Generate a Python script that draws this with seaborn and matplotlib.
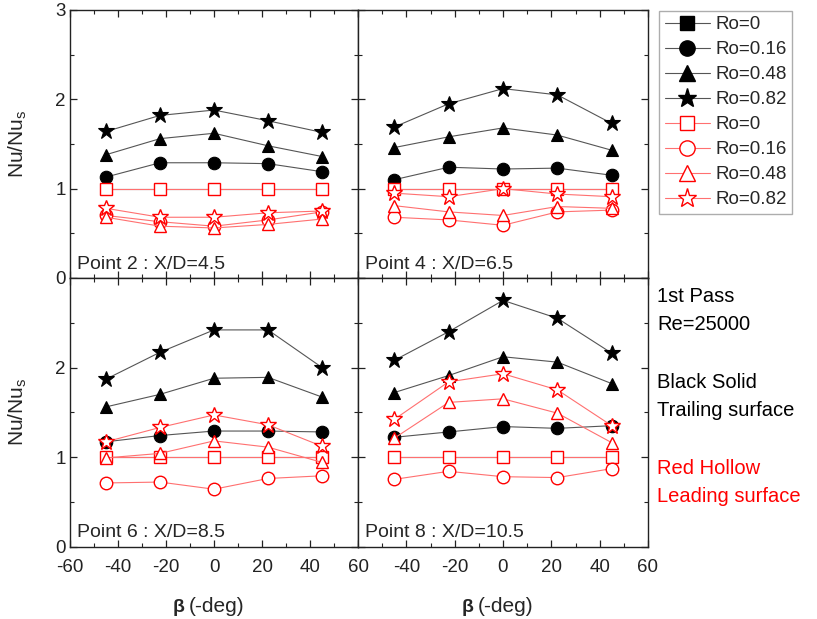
import matplotlib
matplotlib.use("Agg")
import matplotlib.pyplot as plt
from matplotlib.lines import Line2D
from matplotlib.ticker import MultipleLocator, FixedLocator
import seaborn as sns
import pandas as pd

sns.set_style("white")
plt.rcParams['font.family'] = ['Liberation Sans', 'DejaVu Sans']
plt.rcParams['axes.unicode_minus'] = False

beta = [-45, -22.5, 0, 22.5, 45]
ro_labels = ["Ro=0", "Ro=0.16", "Ro=0.48", "Ro=0.82"]

# Trailing surface (black, solid) per Ro: 0, 0.16, 0.48, 0.82
p2_trail = [[1.0, 1.0, 1.0, 1.0, 1.0],
            [1.13, 1.29, 1.29, 1.28, 1.19],
            [1.38, 1.56, 1.62, 1.48, 1.36],
            [1.64, 1.82, 1.88, 1.76, 1.63]]
p2_lead = [[1.0, 1.0, 1.0, 1.0, 1.0],
           [0.70, 0.63, 0.58, 0.65, 0.74],
           [0.68, 0.58, 0.56, 0.60, 0.66],
           [0.78, 0.68, 0.68, 0.73, 0.75]]

p4_trail = [[1.0, 1.0, 1.0, 1.0, 1.0],
            [1.10, 1.24, 1.22, 1.23, 1.15],
            [1.46, 1.58, 1.68, 1.60, 1.43],
            [1.69, 1.95, 2.12, 2.05, 1.73]]
p4_lead = [[1.0, 1.0, 1.0, 1.0, 1.0],
           [0.68, 0.65, 0.59, 0.74, 0.76],
           [0.81, 0.74, 0.70, 0.80, 0.78],
           [0.95, 0.91, 1.00, 0.94, 0.91]]

p6_trail = [[1.0, 1.0, 1.0, 1.0, 1.0],
            [1.17, 1.24, 1.29, 1.29, 1.28],
            [1.56, 1.70, 1.88, 1.89, 1.67],
            [1.87, 2.17, 2.42, 2.42, 2.00]]
p6_lead = [[1.0, 1.0, 1.0, 1.0, 1.0],
           [0.71, 0.72, 0.64, 0.76, 0.79],
           [0.99, 1.04, 1.18, 1.11, 0.94],
           [1.17, 1.33, 1.47, 1.36, 1.12]]

p8_trail = [[1.0, 1.0, 1.0, 1.0, 1.0],
            [1.22, 1.28, 1.34, 1.32, 1.35],
            [1.72, 1.91, 2.12, 2.06, 1.82],
            [2.08, 2.40, 2.75, 2.55, 2.16]]
p8_lead = [[1.0, 1.0, 1.0, 1.0, 1.0],
           [0.75, 0.84, 0.78, 0.77, 0.87],
           [1.21, 1.61, 1.65, 1.49, 1.16],
           [1.42, 1.84, 1.93, 1.75, 1.35]]

panel_titles = ["Point 2 : X/D=4.5", "Point 4 : X/D=6.5",
                "Point 6 : X/D=8.5", "Point 8 : X/D=10.5"]
panels = [(p2_trail, p2_lead), (p4_trail, p4_lead),
          (p6_trail, p6_lead), (p8_trail, p8_lead)]

markers = ["s", "o", "^", "*"]
msizes = [7.5, 9, 9, 12]
black_line = "#555555"
red_line = "#ff7070"

W, H = 817, 619
fig = plt.figure(figsize=(W / 100, H / 100), dpi=100)

def px_axes(x0, x1, y0, y1):
    return fig.add_axes([x0 / W, 1 - y1 / H, (x1 - x0) / W, (y1 - y0) / H])

ax_pos = [(70, 358, 10, 278), (358, 648, 10, 278),
          (70, 358, 278, 546.5), (358, 648, 278, 546.5)]
axes = [px_axes(*p) for p in ax_pos]

for i, (ax, (trail, lead)) in enumerate(zip(axes, panels)):
    for k in range(4):
        df = pd.DataFrame({"beta": beta, "nu": trail[k]})
        sns.lineplot(data=df, x="beta", y="nu", ax=ax, color=black_line,
                     linewidth=0.8, marker=markers[k], markersize=msizes[k],
                     markerfacecolor="black", markeredgecolor="black",
                     markeredgewidth=0.8, zorder=3)
    for k in range(4):
        df = pd.DataFrame({"beta": beta, "nu": lead[k]})
        sns.lineplot(data=df, x="beta", y="nu", ax=ax, color=red_line,
                     linewidth=0.8, marker=markers[k],
                     markersize=msizes[k] + (0.6 if k == 0 else 0),
                     markerfacecolor="white", markeredgecolor="red",
                     markeredgewidth=1.0, zorder=4)
    ax.set_xlim(-60, 60)
    ax.set_ylim(0, 3)
    ax.set_xlabel("")
    ax.set_ylabel("")
    ax.xaxis.set_major_locator(MultipleLocator(20))
    ax.xaxis.set_minor_locator(MultipleLocator(10))
    ax.yaxis.set_major_locator(MultipleLocator(1))
    ax.yaxis.set_minor_locator(MultipleLocator(0.5))
    ax.tick_params(which="both", direction="in", top=True, right=True,
                   bottom=True, left=True, colors="#222222")
    ax.tick_params(which="major", length=5, width=0.9, labelsize=13.5, pad=3)
    ax.tick_params(which="minor", length=3, width=0.8)
    for sp in ax.spines.values():
        sp.set_color("#222222")
        sp.set_linewidth(1.0)
    ax.text(0.025, 0.02, panel_titles[i], transform=ax.transAxes,
            fontsize=14, ha="left", va="bottom")
    ax.set_facecolor("white")
    ax.grid(False)

# Tick label visibility
axes[0].tick_params(labelbottom=False)
axes[1].tick_params(labelbottom=False, labelleft=False)
axes[3].tick_params(labelleft=False)
axes[2].yaxis.set_major_locator(FixedLocator([0, 1, 2]))
axes[2].yaxis.set_minor_locator(FixedLocator([0.5, 1.5, 2.5]))
axes[3].xaxis.set_major_locator(FixedLocator([-40, -20, 0, 20, 40, 60]))
axes[3].xaxis.set_minor_locator(FixedLocator([-60, -50, -30, -10, 10, 30, 50]))
axes[0].yaxis.set_major_locator(FixedLocator([0, 1, 2, 3]))
axes[2].tick_params(axis="x", pad=9)
axes[3].tick_params(axis="x", pad=9)

# Y labels
for yc in (144, 412):
    fig.text(18 / W, 1 - yc / H, r"Nu/Nu$_\mathregular{s}$", rotation=90,
             ha="center", va="center", fontsize=15)
# X labels: bold beta + normal text
for dx in (0, 289):
    fig.text((173 + dx) / W, 1 - 607 / H, "β", ha="left", va="center",
             fontsize=14, fontweight="bold")
    fig.text((189 + dx) / W, 1 - 607 / H, "(-deg)", ha="left", va="center",
             fontsize=15)

# Legend
handles = []
for k in range(4):
    handles.append(Line2D([0], [0], color=black_line, lw=0.8, marker=markers[k],
                          markersize=msizes[k] + 2, markerfacecolor="black",
                          markeredgecolor="black"))
for k in range(4):
    handles.append(Line2D([0], [0], color=red_line, lw=0.8, marker=markers[k],
                          markersize=msizes[k] + 2, markerfacecolor="white",
                          markeredgecolor="red", markeredgewidth=1.0))
leg = fig.legend(handles, ro_labels + ro_labels, loc="upper left",
                 bbox_to_anchor=(659 / W, 1 - 10.5 / H), frameon=True,
                 fancybox=False, edgecolor="#999999", fontsize=13.5,
                 handlelength=2.4, handletextpad=0.3, labelspacing=0.42,
                 borderpad=0.3, borderaxespad=0)
leg.get_frame().set_linewidth(1.0)

# Right-side notes
notes = [("1st Pass", 297, "black"), ("Re=25000", 325, "black"),
         ("Black Solid", 382, "black"), ("Trailing surface", 411, "black"),
         ("Red Hollow", 468, "red"), ("Leading surface", 496, "red")]
for txt, yc, col in notes:
    fig.text(657 / W, 1 - yc / H, txt, ha="left", va="center",
             fontsize=14.5, color=col)

fig.savefig("out.png", dpi=100, facecolor="white")
